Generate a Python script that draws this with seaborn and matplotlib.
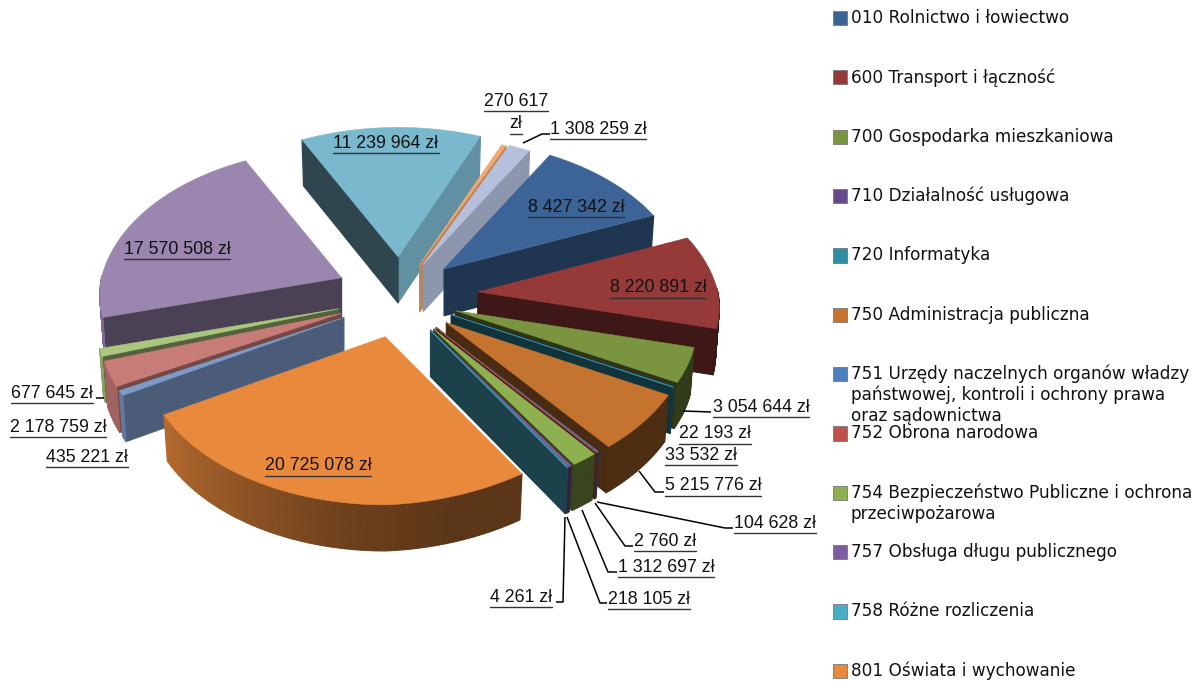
import numpy as np
import matplotlib
matplotlib.use('Agg')
import matplotlib.pyplot as plt
from matplotlib.collections import PolyCollection
import seaborn as sns

# slice values, clockwise from the start angle
values = [8427342, 8220891, 3054644, 22193, 33532, 5215776, 104628, 2760, 1312697,
          218105, 4261, 20725078, 435221, 2178759, 677645, 17570508, 11239964, 270617, 1308259]

slice_colors = ['#3C6496', '#953A39', '#7A9440', '#65498A', '#2F8DA6', '#C4742F', '#4F81BD',
                '#C0504D', '#8FB050', '#7B5DA0', '#4BACC6', '#E9893C', '#7C9BC8', '#C87C78',
                '#ABC77D', '#9B86AF', '#7AB8CE', '#F0A870', '#B4C0DC']

explode = [58, 78, 59, 58, 58, 60, 58, 58, 58, 58, 58, 60, 64, 64, 64, 64, 56, 48, 50]

legend_names = ['010 Rolnictwo i łowiectwo', '600 Transport i łączność', '700 Gospodarka mieszkaniowa',
                '710 Działalność usługowa', '720 Informatyka', '750 Administracja publiczna',
                '751 Urzędy naczelnych organów władzy\npaństwowej, kontroli i ochrony prawa\noraz sądownictwa',
                '752 Obrona narodowa', '754 Bezpieczeństwo Publiczne i ochrona\nprzeciwpożarowa',
                '757 Obsługa długu publicznego', '758 Różne rozliczenia', '801 Oświata i wychowanie']

# centre of each label, in the order of values
label_pos = [(576, 207), (658, 288), (761, 407), (715, 434), (701, 455), (713, 486), (775, 523),
             (665, 541), (666, 567), (649, 599), (521, 597), (318, 466), (87, 457), (58, 427),
             (52, 393), (177, 249), (386, 143), (516, 101), (598, 129)]

leaders = [[(683, 411), (711, 412)], [(639, 471), (655, 492), (664, 492)],
           [(597, 502), (725, 528), (733, 528)], [(595, 503), (625, 546), (633, 546)],
           [(582, 510), (608, 572), (617, 572)], [(567, 517), (600, 603), (607, 603)],
           [(565, 517), (563, 602), (556, 602)], [(523, 143), (542, 134), (550, 134)],
           [(96, 398), (104, 398)]]

# pie geometry, in pixels
CX, CY = 400, 296
RADIUS = 240
TILT = 0.62
PERSP_BACK = 0.15
PERSP_FRONT = 0.115
EXPLODE_TILT = 0.7
DEPTH = 46
START = 60


def rim(ax0, ay0, deg):
    t = np.radians(deg)
    sin, cos = np.sin(t), np.cos(t)
    s = 1 / (1 + (PERSP_BACK if sin > 0 else PERSP_FRONT) * sin)
    # the front right quarter comes out a bit shorter
    if sin < 0 and cos > 0:
        s *= 1 - 0.06 * sin ** 2 * cos
    return ax0 + RADIUS * s * cos, ay0 - RADIUS * TILT * s * sin


def drop(pt, ax0):
    return ax0 + (pt[0] - ax0) * 0.985, pt[1] + DEPTH


def shade(color, f):
    return tuple(np.array(matplotlib.colors.to_rgb(color)) * f)


def radial_shade(normal):
    normal = (normal + 180) % 360 - 180
    return np.interp(normal, [-180, -150, -120, -107, -80, -70, -62, -40, -30, 0],
                     [.4, .38, .35, .4, .47, .5, .58, .78, .78, .8])


def wall_shade(deg):
    deg = (deg + 360) % 360
    return np.interp(deg, [180, 206, 240, 262, 285, 360], [.8, .8, .6, .47, .39, .4])


sns.set_theme(style='white')
palette = sns.color_palette(slice_colors)

fig = plt.figure(figsize=(11.97, 6.81), dpi=100)
ax = fig.add_axes([0, 0, 1, 1])
ax.set_xlim(0, 1197)
ax.set_ylim(681, 0)
ax.axis('off')

edges = START - np.cumsum([0] + values) / sum(values) * 360
slices = []
for i, v in enumerate(values):
    a0, a1 = edges[i], edges[i + 1]
    mid = np.radians((a0 + a1) / 2)
    ax0 = CX + explode[i] * np.cos(mid)
    ay0 = CY - explode[i] * EXPLODE_TILT * np.sin(mid)
    angs = np.linspace(a0, a1, max(2, int((a0 - a1) * 1.5) + 2))
    arc = [rim(ax0, ay0, a) for a in angs]
    top = np.array([(ax0, ay0)] + arc)
    rx, ry = rim(ax0, ay0, (a0 + a1) / 2)
    # painter's order: lower on the screen and further right goes later
    key = (ay0 + ry) / 2 + 0.3 * (ax0 + rx) / 2
    slices.append((key, i, ax0, ay0, angs, arc, top))

# back slices first
z = 1
for _, i, ax0, ay0, angs, arc, top in sorted(slices, key=lambda s: s[0]):
    col = palette[i]
    apex = (ax0, ay0)
    faces, colors = [], []
    # cut faces, only the ones turned to the viewer
    if arc[0][0] < ax0:
        faces.append([apex, arc[0], drop(arc[0], ax0), drop(apex, ax0)])
        colors.append(shade(col, radial_shade(angs[0] + 90)))
    if arc[-1][0] > ax0:
        faces.append([apex, arc[-1], drop(arc[-1], ax0), drop(apex, ax0)])
        colors.append(shade(col, radial_shade(angs[-1] - 90)))
    # outer wall, cut in small strips for the gradient
    for j in range(len(arc) - 1):
        a_mid = (angs[j] + angs[j + 1]) / 2
        if np.sin(np.radians(a_mid)) < 0.02:
            faces.append([arc[j], arc[j + 1], drop(arc[j + 1], ax0), drop(arc[j], ax0)])
            colors.append(shade(col, wall_shade(a_mid)))
    if faces:
        # far faces first
        order = np.argsort([np.mean([p[1] for p in f]) for f in faces])
        pc = PolyCollection([faces[o] for o in order], facecolors=[colors[o] for o in order],
                            edgecolors='face', linewidths=0.9, zorder=z)
        ax.add_collection(pc)
    ax.fill(top[:, 0], top[:, 1], facecolor=col, edgecolor=col, linewidth=0.4, zorder=z + 1)
    z += 2

# leader lines
for line in leaders:
    xs, ys = zip(*line)
    ax.plot(xs, ys, color='black', lw=1.1, zorder=z, solid_capstyle='butt')

# data labels, underlined
fig.canvas.draw()
rend = fig.canvas.get_renderer()


def label(x, y, s):
    t = ax.text(x, y, s, ha='center', va='center', fontsize=12.8, color='#111111',
                family='Liberation Sans', zorder=z + 2)
    w = t.get_window_extent(rend).width
    ax.plot([x - w / 2, x + w / 2], [y + 9.5, y + 9.5], color='#333333', lw=1.0, zorder=z + 1)


for v, (x, y) in zip(values, label_pos):
    s = f'{v:,}'.replace(',', ' ')
    if v == 270617:
        label(x, y, s)
        label(x, y + 23, 'zł')
    else:
        label(x, y, s + ' zł')

# legend
leg_y = [18 + 59.35 * i for i in range(len(legend_names))]
leg_colors = palette[:12]
sns.scatterplot(x=[840] * len(leg_y), y=leg_y, hue=legend_names, palette=leg_colors, marker='s', s=105,
                edgecolor='#777777', linewidth=0.6, legend=False, ax=ax, zorder=z)
ax.set_xlim(0, 1197)
ax.set_ylim(681, 0)
ax.set_xlabel('')
ax.set_ylabel('')
for name, y in zip(legend_names, leg_y):
    for j, line in enumerate(name.split('\n')):
        ax.text(851, y + j * 21, line, va='center', ha='left', fontsize=12.2,
                family='DejaVu Sans', color='#111111', zorder=z)

fig.savefig('out.png', dpi=100)
